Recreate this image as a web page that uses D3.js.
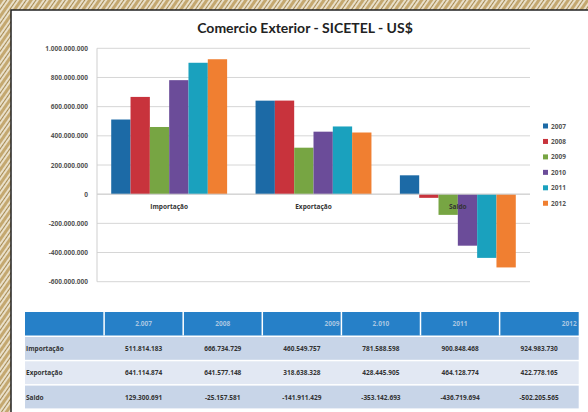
<!DOCTYPE html>
<html><head><meta charset="utf-8">
<script src="https://cdn.jsdelivr.net/npm/d3@7"></script>
<style>html,body{margin:0;padding:0;background:#fff;}svg{display:block;}</style>
</head><body>
<svg id="c" width="588" height="412"></svg>
<script>
const categories = ["Importação", "Exportação", "Saldo"];
const years = ["2007", "2008", "2009", "2010", "2011", "2012"];
const headerLabels = ["2.007", "2008", "2009", "2.010", "2011", "2012"];
const importacao = [511814183, 666734729, 460549757, 781588598, 900848468, 924983730];
const exportacao = [641114874, 641577148, 318638328, 428445905, 464128774, 422778165];
const saldo = [129300691, -25157581, -141911429, -353142693, -436719694, -502205565];
const tableRows = ["Importação", "Exportação", "Saldo"];
const yTicks = [1000000000, 800000000, 600000000, 400000000, 200000000, 0, -200000000, -400000000, -600000000];
const colors = ["#1c6aa6", "#c8333c", "#77a543", "#6b4c99", "#1aa1be", "#f07f31"];

const seriesByCat = [importacao, exportacao, saldo];
const fmt = v => {
  const s = Math.abs(Math.round(v)).toString().replace(/\B(?=(\d{3})+(?!\d))/g, ".");
  return (v < 0 ? "-" : "") + s;
};

const svg = d3.select("#c");
// background (wood-like stripes)
const defs = svg.append("defs");
const pat = defs.append("pattern").attr("id", "wood").attr("width", 8).attr("height", 8)
  .attr("patternUnits", "userSpaceOnUse").attr("patternTransform", "rotate(35)");
pat.append("rect").attr("width", 8).attr("height", 8).attr("fill", "#e9dfc8");
pat.append("rect").attr("width", 3).attr("height", 8).attr("fill", "#c4a870");
pat.append("rect").attr("x", 5).attr("width", 1).attr("height", 8).attr("fill", "#a68a52");
svg.append("rect").attr("width", 588).attr("height", 412).attr("fill", "url(#wood)");
// panel
svg.append("rect").attr("x", 11).attr("y", 10).attr("width", 590).attr("height", 420)
  .attr("fill", "#fff").attr("stroke", "#222").attr("stroke-width", 1.5);

// title
svg.append("text").attr("x", 305).attr("y", 33).attr("text-anchor", "middle")
  .attr("font-family", "Lato, 'Open Sans', sans-serif").attr("font-weight", "bold")
  .attr("font-size", 14).attr("fill", "#222").text("Comercio Exterior - SICETEL - US$");

const plotL = 97, plotR = 530;
const y = d3.scaleLinear().domain([-600000000, 1000000000]).range([281.7, 48.3]);
const x0 = d3.scaleBand().domain(categories).range([plotL, plotR]).paddingInner(0.197).paddingOuter(0.0985);
const x1 = d3.scaleBand().domain(years).range([0, x0.bandwidth()]);

// gridlines
svg.append("g").selectAll("line").data(yTicks).join("line")
  .attr("x1", plotL).attr("x2", plotR).attr("y1", d => y(d)).attr("y2", d => y(d))
  .attr("stroke", "#d6d6d6").attr("stroke-width", 1);
svg.append("line").attr("x1", plotL).attr("x2", plotL).attr("y1", y(1000000000)).attr("y2", y(-600000000))
  .attr("stroke", "#cfcfcf");

// y axis
const yAxis = d3.axisLeft(y).tickValues(yTicks).tickFormat(fmt).tickSize(0).tickPadding(9);
const ga = svg.append("g").attr("transform", `translate(${plotL},0)`).call(yAxis);
ga.select(".domain").remove();
ga.selectAll("text").attr("font-family", "'Open Sans', sans-serif").attr("font-size", 6.5)
  .attr("font-weight", "bold").attr("fill", "#555");

// bars
const gCat = svg.append("g").selectAll("g").data(categories).join("g")
  .attr("transform", d => `translate(${x0(d)},0)`);
gCat.selectAll("rect").data((c, i) => seriesByCat[i].map((v, j) => ({ v, j })))
  .join("rect")
  .attr("x", d => x1(years[d.j]))
  .attr("width", x1.bandwidth())
  .attr("y", d => y(Math.max(0, d.v)))
  .attr("height", d => Math.abs(y(d.v) - y(0)))
  .attr("fill", d => colors[d.j]);

// zero axis line
svg.append("line").attr("x1", plotL).attr("x2", plotR).attr("y1", y(0)).attr("y2", y(0)).attr("stroke", "#d0d0d0");

// category labels
svg.append("g").selectAll("text").data(categories).join("text")
  .attr("x", d => x0(d) + x0.bandwidth() / 2).attr("y", y(0) + 15)
  .attr("text-anchor", "middle").attr("font-family", "'Open Sans', sans-serif")
  .attr("font-size", 6.5).attr("font-weight", "bold").attr("fill", "#333").text(d => d);

// legend
const lg = svg.append("g").selectAll("g").data(years).join("g")
  .attr("transform", (d, i) => `translate(543,${126 + i * 15.45})`);
lg.append("rect").attr("x", 0).attr("y", -2.5).attr("width", 5).attr("height", 5).attr("fill", (d, i) => colors[i]);
lg.append("text").attr("x", 8).attr("y", 2.5).attr("font-family", "'Open Sans', sans-serif")
  .attr("font-size", 6.5).attr("font-weight", "bold").attr("fill", "#555").text(d => d);

// table
const tL = 25, colW = 79.1, tTop = 312, hdrH = 23.5, rowH = 24.3;
const tbl = svg.append("g");
tbl.append("rect").attr("x", tL).attr("y", tTop).attr("width", colW * 7).attr("height", hdrH).attr("fill", "#2680c8");
tableRows.forEach((r, i) => {
  tbl.append("rect").attr("x", tL).attr("y", tTop + hdrH + i * rowH + 1.5)
    .attr("width", colW * 7).attr("height", rowH - 1.5)
    .attr("fill", i % 2 === 0 ? "#c8d5e8" : "#e2e8f3");
});
for (let k = 1; k < 7; k++) {
  tbl.append("line").attr("x1", tL + k * colW).attr("x2", tL + k * colW)
    .attr("y1", tTop).attr("y2", tTop + hdrH).attr("stroke", "#fff").attr("stroke-width", 1.5);
}
tbl.selectAll("text.h").data(headerLabels).join("text").attr("class", "h")
  .attr("x", (d, i) => (i === 2 || i === 5) ? tL + (i + 2) * colW - 2 : tL + (i + 1.5) * colW)
  .attr("y", tTop + hdrH / 2 + 2.5)
  .attr("text-anchor", (d, i) => (i === 2 || i === 5) ? "end" : "middle")
  .attr("font-family", "'Open Sans', sans-serif").attr("font-size", 6.5).attr("font-weight", "bold")
  .attr("fill", "#a9c6e2").text(d => d);
tableRows.forEach((r, i) => {
  const cy = tTop + hdrH + i * rowH + 1.5 + (rowH - 1.5) / 2 + 2.5;
  tbl.append("text").attr("x", tL + 1).attr("y", cy).attr("font-family", "'Open Sans', sans-serif")
    .attr("font-size", 6.5).attr("font-weight", "bold").attr("fill", "#333").text(r);
  tbl.selectAll("text.v" + i).data(seriesByCat[i]).join("text").attr("class", "v" + i)
    .attr("x", (d, j) => tL + (j + 1.5) * colW).attr("y", cy).attr("text-anchor", "middle")
    .attr("font-family", "'Open Sans', sans-serif").attr("font-size", 6.5).attr("font-weight", "bold")
    .attr("fill", "#333").text(d => fmt(d));
});
</script>
</body></html>
